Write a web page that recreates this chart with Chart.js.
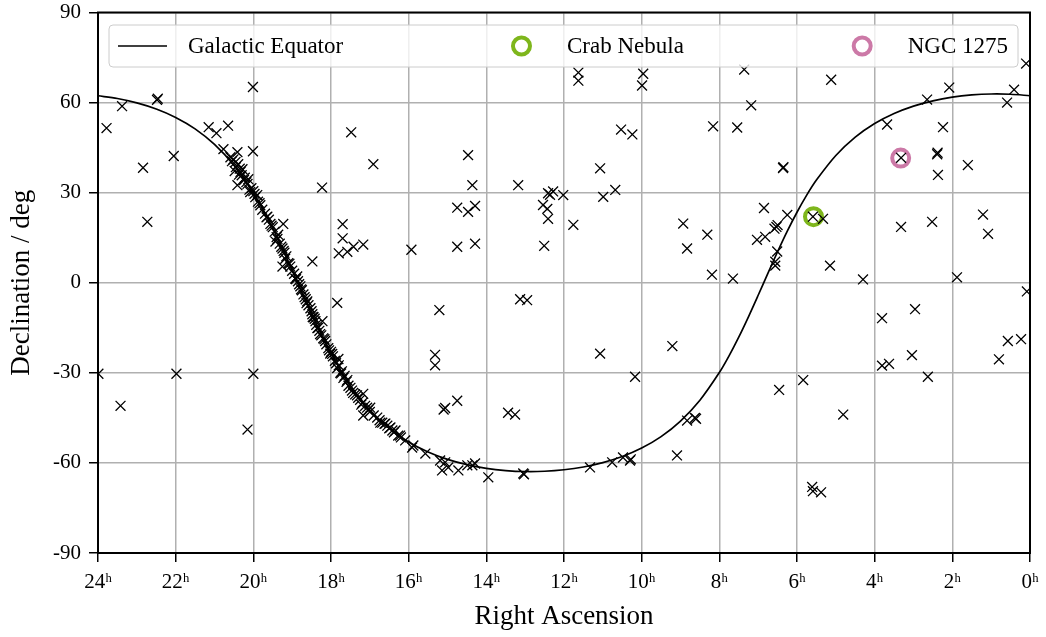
<!DOCTYPE html>
<html><head><meta charset="utf-8">
<script src="https://cdn.jsdelivr.net/npm/chart.js@4"></script>
<style>html,body{margin:0;padding:0;background:#fff}#wrap{width:1046px;height:637px}</style>
</head><body><div id="wrap"><canvas id="c" width="1046" height="637"></canvas></div>
<script>
const FONT = '"Liberation Serif", "DejaVu Serif", serif';

// Galactic equator (RA in hours, Dec in degrees)
const equatorRA = [0,0.5,1,1.5,2,2.5,3,3.5,4,4.5,5,5.5,5.75,6,6.25,6.5,6.75,7,7.25,7.5,7.75,8,8.5,9,9.5,10,10.5,11,11.5,
  12,12.5,13,13.5,14,14.5,15,15.5,16,16.5,17,17.5,17.75,18,18.25,18.5,18.75,19,19.25,19.5,19.75,20,20.5,21,21.5,22,22.5,23,23.5,24];
const equatorDec = [62.28,62.77,62.86,62.54,61.81,60.59,58.83,56.36,53.02,48.48,42.37,34.18,29.17,23.48,17.18,10.33,3.14,-4.17,-11.33,-18.10,-24.33,-29.91,-39.13,-46.08,-51.25,-55.06,-57.87,-59.91,-61.35,
  -62.28,-62.77,-62.86,-62.54,-61.81,-60.59,-58.83,-56.36,-53.02,-48.48,-42.37,-34.18,-29.17,-23.48,-17.18,-10.33,-3.14,4.17,11.33,18.10,24.33,29.91,39.13,46.08,51.25,55.06,57.87,59.91,61.35,62.28];

// Sources (x markers)
const sourceRA = [
  23.78,23.38,22.48,22.46,22.84,22.05,21.15,20.95,20.65,20.01,20.01,20.77,18.23,17.48,16.91,
  20.59,20.51,20.46,20.41,20.39,20.33,20.28,20.13,20.41,20.15,20.08,19.90,19.77,19.64,19.56,19.23,19.36,19.43,19.25,19.18,19.05,19.25,18.48,18.87,
  18.92,18.79,18.71,18.61,18.53,18.48,18.40,18.22,18.35,18.28,18.15,18.07,17.97,17.81,17.84,17.76,17.68,17.55,17.43,17.30,17.19,17.07,16.81,16.68,16.55,16.42,16.27,16.09,15.88,17.84,17.17,
  20.55,20.45,20.35,20.30,20.22,20.18,20.05,20.00,19.95,19.88,19.82,19.70,19.60,19.50,19.45,19.40,19.32,19.28,19.20,19.15,19.10,19.00,18.95,18.85,18.82,18.75,18.68,18.65,18.58,18.50,18.45,18.42,18.38,18.30,18.25,18.20,18.12,18.05,18.00,17.95,17.90,17.80,17.72,17.65,17.60,17.50,17.38,17.25,17.12,17.00,16.90,16.75,16.62,16.50,16.38,16.20,
  20.48,20.37,20.24,20.10,19.97,19.84,19.66,19.53,19.38,19.22,19.07,18.90,18.77,18.63,18.47,18.33,18.17,18.02,17.87,17.74,17.58,17.46,17.33,17.22,17.04,
  17.17,16.99,16.73,16.60,16.47,16.34,16.22,15.91,15.57,15.19,15.06,15.14,14.98,14.72,14.49,14.36,14.29,13.95,13.05,13.03,11.33,10.76,10.48,10.30,10.28,
  15.06,14.75,15.10,13.44,13.26,15.21,15.32,15.32,13.13,12.95,11.07,9.21,10.17,
  17.70,17.70,17.80,17.58,17.42,17.17,15.93,14.75,14.47,14.29,14.75,14.29,12.54,12.43,12.41,12.51,11.76,8.93,8.83,
  14.47,14.36,13.18,12.41,12.36,12.28,12.02,11.07,10.68,10.99,10.53,10.24,11.63,11.63,9.96,9.99,
  7.36,5.12,0.10,7.18,8.16,7.54,6.36,6.35,3.68,2.65,2.08,2.24,2.39,2.38,2.37,1.60,0.59,0.41,3.32,
  6.85,6.25,8.31,6.53,6.50,6.58,7.03,6.82,6.51,6.56,6.56,8.19,7.65,5.59,5.33,5.15,4.30,3.32,2.52,1.21,1.08,1.88,0.08,
  3.81,2.96,3.81,3.63,3.04,2.63,0.57,0.23,0.80,5.84,6.46,8.60,8.63,8.83,4.81,5.61,5.59,5.38,9.09,
  22.73,23.99,21.98,20.00,23.42,20.15
];
const sourceDec = [
  51.5,58.8,60.9,61.3,38.3,42.2,51.8,49.8,52.3,65.2,43.8,44.5,31.7,50.1,39.5,
  41.8,41.1,40.2,43.5,39.5,36.9,37.8,34.5,32.5,32.9,30.2,29.2,24.3,22.0,19.6,19.6,16.0,13.7,11.4,8.0,5.4,5.4,7.1,2.1,
  1.4,-1.2,-3.9,-6.2,-8.5,-10.5,-12.8,-12.8,-15.1,-17.1,-19.4,-21.8,-23.7,-25.4,-28.4,-30.0,-31.7,-34.3,-36.7,-38.3,-40.0,-41.6,-44.9,-46.6,-47.6,-49.2,-50.9,-52.5,-54.2,-6.7,-44.2,
  40.5,38.5,38.0,35.8,35.0,33.5,31.5,30.5,28.5,27.0,25.8,23.0,21.0,18.5,17.0,15.2,13.0,12.0,10.0,8.8,6.5,4.0,3.0,0.5,-0.5,-2.5,-4.8,-5.5,-7.5,-9.5,-11.5,-12.0,-14.0,-16.0,-17.5,-18.5,-20.5,-22.5,-23.0,-24.5,-26.0,-27.5,-29.5,-31.0,-33.0,-35.0,-37.2,-39.0,-41.0,-43.0,-44.2,-45.8,-47.0,-48.5,-49.8,-51.5,
  37.2,36.0,34.2,31.0,29.6,26.5,21.8,19.0,14.6,10.6,6.3,1.2,-2.2,-6.8,-11.4,-15.0,-18.8,-23.6,-26.8,-30.2,-32.4,-35.9,-37.5,-40.6,-42.4,
  -37.0,-41.6,-46.6,-46.9,-48.2,-49.2,-50.9,-54.9,-56.9,-59.2,-59.8,-62.5,-61.5,-62.5,-60.8,-60.8,-60.2,-64.8,-63.5,-63.8,-61.5,-59.8,-58.2,-59.2,-58.8,
  -41.7,-39.3,-42.2,-43.3,-43.9,-9.1,-24.0,-27.5,-5.5,-5.8,-23.6,-21.1,-31.3,
  19.5,14.8,9.8,10.3,12.0,12.7,11.0,25.0,23.6,25.6,12.0,13.0,25.9,24.6,21.3,12.3,19.3,19.7,11.4,
  42.5,32.5,32.5,29.8,29.3,30.4,29.2,38.1,30.9,28.6,51.0,49.4,70.0,67.3,69.6,65.7,
  71.0,67.6,73.0,59.1,52.1,51.7,38.2,38.5,52.7,61.0,65.0,51.8,42.8,43.3,35.9,39.2,60.0,64.3,41.6,
  24.9,22.6,16.0,18.6,19.2,18.0,14.3,15.3,10.4,7.0,5.7,2.7,1.4,22.0,21.3,5.7,1.1,18.6,20.3,22.7,16.3,1.8,-2.9,
  -11.8,-8.8,-27.6,-27.0,-24.1,-31.3,-19.4,-18.8,-25.5,-32.4,-35.7,-45.3,-45.0,-45.9,-43.9,-68.0,-69.4,-69.8,-57.5,
  20.3,-30.3,-30.3,-30.3,-41.0,-48.9
];

const crabRA = [5.575], crabDec = [22.01];
const ngcRA = [3.33], ngcDec = [41.51];

const raTicks = [0,2,4,6,8,10,12,14,16,18,20,22,24];
const decTicks = [-90,-60,-30,0,30,60,90];
const legendLabels = ['Galactic Equator','Crab Nebula','NGC 1275'];
const legendColors = ['#000000','#7eb61c','#cc79a7'];

const zip = (xs, ys) => xs.map((x, i) => ({x, y: ys[i]}));

const overlay = {
  id: 'overlay',
  afterDraw(chart) {
    const {ctx, chartArea: ca} = chart;
    ctx.save();
    ctx.strokeStyle = '#000'; ctx.lineWidth = 2;
    ctx.strokeRect(ca.left, ca.top, ca.right - ca.left, ca.bottom - ca.top);

    const x0 = ca.left + 11, x1 = ca.right - 12, y0 = ca.top + 12.5, y1 = y0 + 42, r = 4;
    ctx.beginPath();
    ctx.moveTo(x0 + r, y0); ctx.lineTo(x1 - r, y0); ctx.arcTo(x1, y0, x1, y0 + r, r);
    ctx.lineTo(x1, y1 - r); ctx.arcTo(x1, y1, x1 - r, y1, r);
    ctx.lineTo(x0 + r, y1); ctx.arcTo(x0, y1, x0, y1 - r, r);
    ctx.lineTo(x0, y0 + r); ctx.arcTo(x0, y0, x0 + r, y0, r);
    ctx.closePath();
    ctx.fillStyle = 'rgba(255,255,255,0.8)'; ctx.fill();
    ctx.strokeStyle = '#cccccc'; ctx.lineWidth = 1; ctx.stroke();

    ctx.font = '23px ' + FONT;
    const widths = legendLabels.map(t => ctx.measureText(t).width);
    const handle = 49, gap = 21;
    const start = x0 + 9, end = x1 - 10;
    const total = widths.reduce((a, w) => a + handle + gap + w, 0);
    const sep = (end - start - total) / 2;
    const ym = (y0 + y1) / 2;
    let x = start;
    legendLabels.forEach((t, i) => {
      if (i === 0) {
        ctx.strokeStyle = legendColors[0]; ctx.lineWidth = 1.7;
        ctx.beginPath(); ctx.moveTo(x, ym); ctx.lineTo(x + handle, ym); ctx.stroke();
      } else {
        ctx.strokeStyle = legendColors[i]; ctx.lineWidth = 4;
        ctx.beginPath(); ctx.arc(x + handle / 2, ym, 8.5, 0, Math.PI * 2); ctx.stroke();
      }
      ctx.fillStyle = '#000'; ctx.textBaseline = 'middle'; ctx.textAlign = 'left';
      ctx.fillText(t, x + handle + gap, ym + 1);
      x += handle + gap + widths[i] + sep;
    });
    ctx.restore();
  }
};

new Chart(document.getElementById('c'), {
  type: 'scatter',
  data: {
    datasets: [
      { label: legendLabels[0], data: zip(equatorRA, equatorDec), showLine: true, pointRadius: 0,
        borderColor: '#000', borderWidth: 1.7, tension: 0.3, fill: false, order: 3 },
      { label: legendLabels[1], data: zip(crabRA, crabDec), pointStyle: 'circle', pointRadius: 8.5,
        pointBorderWidth: 4, borderColor: legendColors[1], backgroundColor: 'rgba(0,0,0,0)', order: 2 },
      { label: legendLabels[2], data: zip(ngcRA, ngcDec), pointStyle: 'circle', pointRadius: 8.5,
        pointBorderWidth: 4, borderColor: legendColors[2], backgroundColor: 'rgba(0,0,0,0)', order: 2 },
      { label: 'Sources', data: zip(sourceRA, sourceDec), pointStyle: 'crossRot', pointRadius: 7,
        pointBorderWidth: 1.3, borderColor: '#000', backgroundColor: '#000', order: 1 }
    ]
  },
  options: {
    responsive: false, animation: false, devicePixelRatio: 1,
    layout: { padding: { top: 8, right: 16, left: 0, bottom: 0 } },
    plugins: { legend: { display: false }, tooltip: { enabled: false } },
    scales: {
      x: {
        type: 'linear', reverse: true, min: 0, max: 24,
        afterBuildTicks: s => { s.ticks = raTicks.map(v => ({ value: v })); },
        afterFit: s => { s.height = 84; s.paddingLeft = 0; s.paddingRight = 0; },
        ticks: { callback: v => v + 'ʰ', font: { family: FONT, size: 21 }, color: '#000',
                 maxRotation: 0, autoSkip: false, padding: 8 },
        grid: { color: '#b0b0b0', lineWidth: 1.5, tickColor: '#000', tickLength: 9, tickWidth: 1.5 },
        border: { display: true, color: '#000', width: 2 },
        title: { display: true, text: 'Right Ascension', font: { family: FONT, size: 27 }, color: '#000',
                 padding: { top: 0, bottom: 4 } }
      },
      y: {
        type: 'linear', min: -90, max: 90,
        afterBuildTicks: s => { s.ticks = decTicks.map(v => ({ value: v })); },
        afterFit: s => { s.width = 98; s.paddingTop = 0; s.paddingBottom = 0; },
        ticks: { callback: v => String(v), font: { family: FONT, size: 21 }, color: '#000', padding: 8 },
        grid: { color: '#b0b0b0', lineWidth: 1.5, tickColor: '#000', tickLength: 9, tickWidth: 1.5 },
        border: { display: true, color: '#000', width: 2 },
        title: { display: true, text: 'Declination / deg', font: { family: FONT, size: 27 }, color: '#000',
                 padding: { top: 6, bottom: 0 } }
      }
    }
  },
  plugins: [overlay]
});
</script>
</body></html>
